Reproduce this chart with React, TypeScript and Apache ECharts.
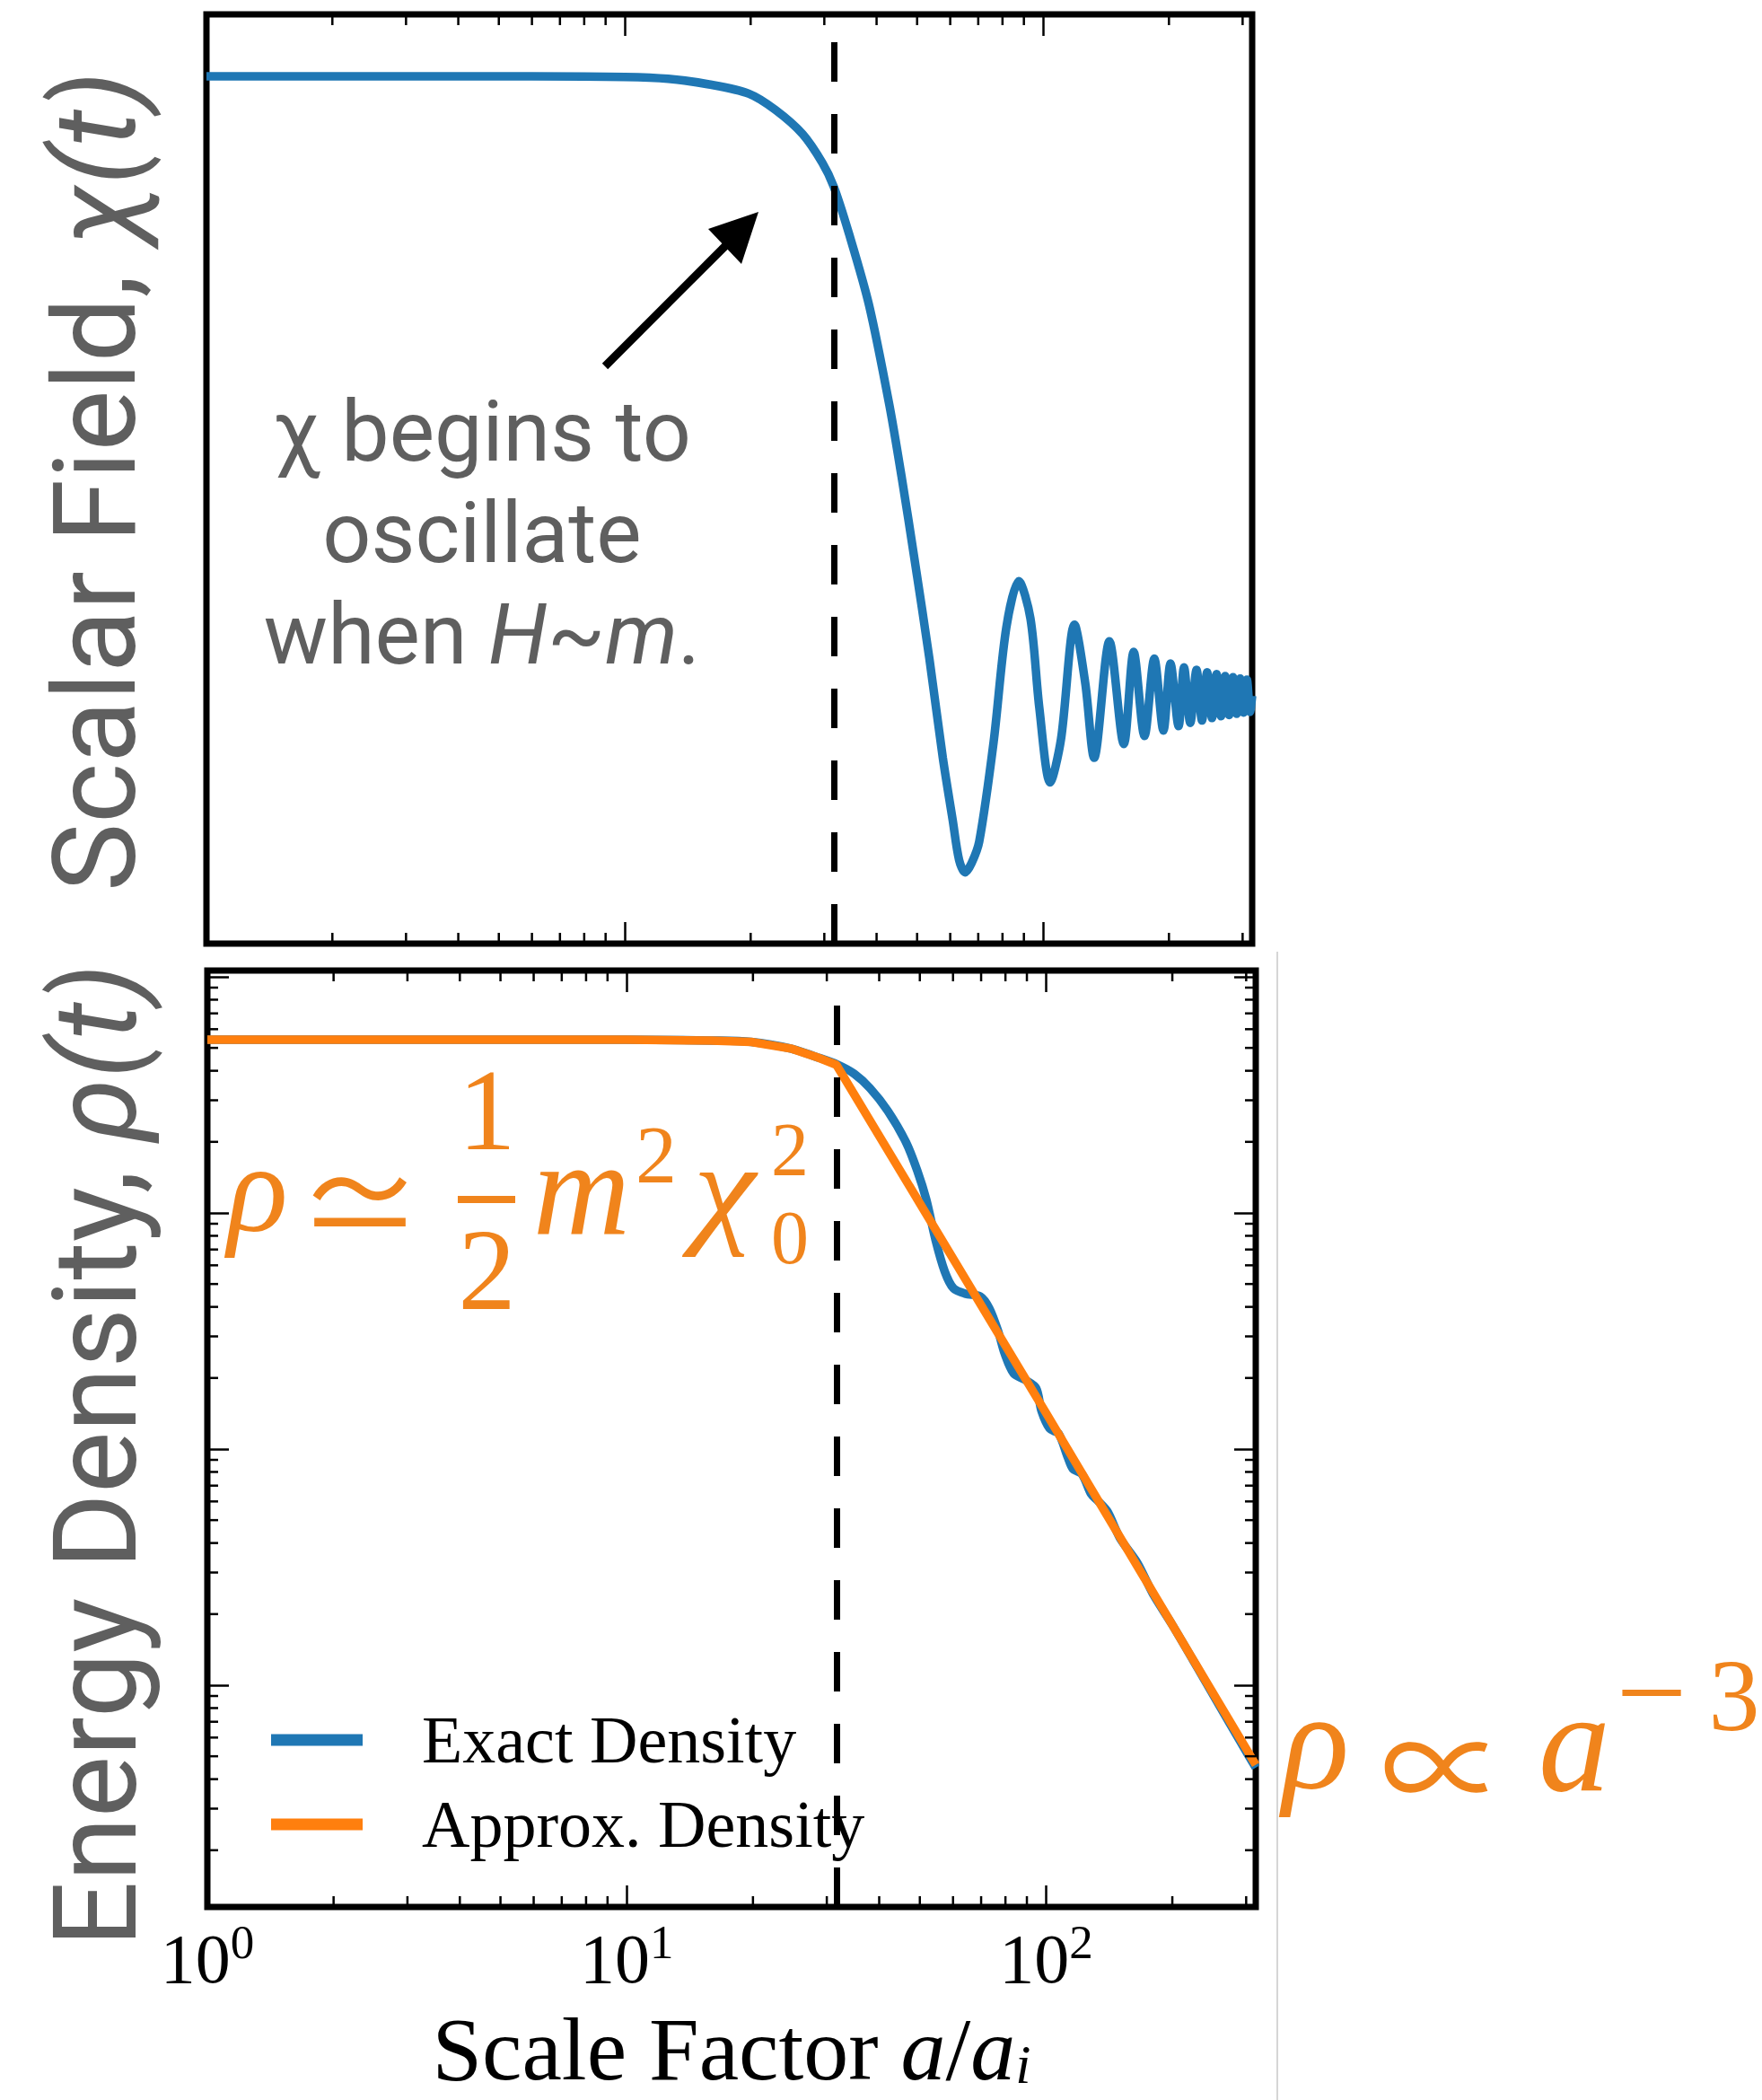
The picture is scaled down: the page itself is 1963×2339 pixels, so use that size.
import React, { useEffect, useRef } from 'react';
import * as echarts from 'echarts';

// ---------------- data ----------------
const X_MIN = 1;
const X_MAX = 316.2;
const OSC_ONSET = 31.62;

// top panel: scalar field chi(a)
const chiA = [1, 3, 6, 10, 12.7, 15.9, 19.8, 22.9, 26.6, 29.7, 31.6, 34.4, 38.4, 42.9, 46.0, 49.3, 53.5, 57.6, 60.8, 63.0,
  65.1, 67.5, 70.4, 76.2, 81.7, 87.5, 93.3, 98.0, 104.0, 110.4, 118.9, 126.2, 132.5, 144.1, 156.0, 164.7, 174.8, 184.5, 194.0, 201.7,
  210.9, 217.3, 224.9, 232.8, 239.9, 246.8, 253.5, 260.0, 266.4, 272.6, 278.6, 284.6, 290.4, 296.1, 301.7, 307.2, 312.6, 316.2];
const chiV = [1, 1, 1, 0.999, 0.996, 0.987, 0.972, 0.946, 0.907, 0.86, 0.822, 0.745, 0.63, 0.47, 0.35, 0.22, 0.06, -0.1, -0.2, -0.265,
  -0.285, -0.27, -0.235, -0.074, 0.11, 0.185, 0.125, -0.02, -0.14, -0.07, 0.115, 0.02, -0.1, 0.088, -0.078, 0.071, -0.065, 0.06, -0.056, 0.052,
  -0.049, 0.046, -0.044, 0.042, -0.04, 0.038, -0.036, 0.035, -0.033, 0.032, -0.031, 0.03, -0.029, 0.028, -0.027, 0.026, -0.026, 0];

// bottom panel: exact energy density
const exactA = [1, 10, 15.9, 19.8, 24.6, 28.2, 31.9, 34.9, 38.0, 41.9, 46.3, 49.3, 51.8, 54.5, 57.3, 60.1, 64.1, 69.7, 73.2, 76.9,
  79.7, 83.7, 89.3, 94.7, 97.5, 102, 107.2, 112.6, 115.9, 121.8, 128, 132.5, 140, 150, 165, 180, 200, 230, 260, 290, 316.2];
const exactV = [0.542, 0.542, 0.537, 0.53, 0.497, 0.459, 0.424, 0.388, 0.338, 0.271, 0.2, 0.151, 0.114, 0.0769, 0.0566, 0.048, 0.0455, 0.0443, 0.0395, 0.0315,
  0.0253, 0.0209, 0.0196, 0.0181, 0.0145, 0.0122, 0.0116, 0.00925, 0.00824, 0.00783, 0.00646, 0.00607, 0.00545, 0.0042, 0.0033, 0.00243, 0.0018, 0.00118, 0.00081, 0.00058, 0.000447];

// bottom panel: approximate energy density
const approxA = [1, 10, 15.9, 19.8, 24.6, 28.2, 31.62, 100, 316.2];
const approxV = [0.542, 0.542, 0.537, 0.53, 0.497, 0.459, 0.424, 0.0142, 0.00046];

const RHO_MIN = 1.15e-4;
const RHO_MAX = 1.063;
const CHI_MIN = -0.4;
const CHI_MAX = 1.1;

// ticks and tick labels
const xMajorTicks = [1, 10, 100];
const xTickBase = '10';
const xTickExps = ['0', '1', '2'];
const xMinorTicks = [2, 3, 4, 5, 6, 7, 8, 9, 20, 30, 40, 50, 60, 70, 80, 90, 200, 300];
const rhoMinorTicks = [
  2e-4, 3e-4, 4e-4, 5e-4, 6e-4, 7e-4, 8e-4, 9e-4,
  2e-3, 3e-3, 4e-3, 5e-3, 6e-3, 7e-3, 8e-3, 9e-3,
  2e-2, 3e-2, 4e-2, 5e-2, 6e-2, 7e-2, 8e-2, 9e-2,
  0.2, 0.3, 0.4, 0.5, 0.6, 0.7, 0.8, 0.9,
];

const seriesNames = ['Exact Density', 'Approx. Density'];

// ---------------- styles ----------------
const BLUE = '#1f77b4';
const ORANGE = '#ff7f0e';
const TXT_ORANGE = '#f0841c';
const GRAY = '#5f5f5f';
const SERIF = "'Liberation Serif', 'DejaVu Serif', serif";
const CJKSYM = "'Noto Sans CJK JP', 'DejaVu Sans', sans-serif";
const SANS = "Roboto, 'Liberation Sans', sans-serif";

const TICK = { color: '#000', width: 2.5 };
const MINOR_LEN = 12;
const LINE_W = 9.5;

const xMinorRender = (params: any, api: any) => {
  const cs = params.coordSys;
  const x = api.coord([api.value(0), api.value(1)])[0];
  const st = { stroke: '#000', lineWidth: TICK.width };
  return {
    type: 'group',
    children: [
      { type: 'line', shape: { x1: x, y1: cs.y, x2: x, y2: cs.y + MINOR_LEN }, style: st },
      { type: 'line', shape: { x1: x, y1: cs.y + cs.height, x2: x, y2: cs.y + cs.height - MINOR_LEN }, style: st },
    ],
  };
};

const yMinorRender = (params: any, api: any) => {
  const cs = params.coordSys;
  const y = api.coord([api.value(0), api.value(1)])[1];
  const st = { stroke: '#000', lineWidth: TICK.width };
  return {
    type: 'group',
    children: [
      { type: 'line', shape: { x1: cs.x, y1: y, x2: cs.x + MINOR_LEN, y2: y }, style: st },
      { type: 'line', shape: { x1: cs.x + cs.width, y1: y, x2: cs.x + cs.width - MINOR_LEN, y2: y }, style: st },
    ],
  };
};

const dashed = {
  silent: true,
  symbol: ['none', 'none'],
  label: { show: false },
  lineStyle: { color: '#000', width: 7, type: [44, 36] },
  data: [{ xAxis: OSC_ONSET }],
  z: 10,
};

const baseLogX: any = {
  type: 'log',
  logBase: 10,
  min: X_MIN,
  max: X_MAX,
  axisLine: { show: false, onZero: false },
  splitLine: { show: false },
  minorTick: { show: false },
  axisTick: { show: true, inside: true, length: 24, lineStyle: TICK },
  axisLabel: { show: false },
};

const baseLogY: any = {
  type: 'log',
  logBase: 10,
  gridIndex: 1,
  min: RHO_MIN,
  max: RHO_MAX,
  axisLine: { show: false, onZero: false },
  splitLine: { show: false },
  minorTick: { show: false },
  axisTick: { show: true, inside: true, length: 24, lineStyle: TICK },
  axisLabel: { show: false },
};

const xLabelFormatter = (v: number) => {
  const i = xMajorTicks.findIndex((t) => Math.abs(t - v) / t < 1e-6);
  return i < 0 ? '' : `{b|${xTickBase}}{s|${xTickExps[i]}}`;
};

// free-standing texts as centred title components (text box centred on cx, cy)
const label = (text: string, cx: number, cy: number, textStyle: any) => ({
  text,
  left: cx,
  top: cy,
  textAlign: 'center',
  textVerticalAlign: 'middle',
  padding: 0,
  itemGap: 0,
  z: 20,
  textStyle,
});

const orange = (text: string, cx: number, cy: number, size: number, italic: boolean, family = SERIF, lineHeight?: number) =>
  label(text, cx, cy, {
    color: TXT_ORANGE,
    fontFamily: family,
    fontSize: size,
    fontStyle: italic ? 'italic' : 'normal',
    fontWeight: 'normal',
    lineHeight: lineHeight || Math.round(size * 0.9),
  });

// symbols that need horizontal stretching, drawn as scaled text
const scaledText = (text: string, cx: number, cy: number, size: number, sx: number, sy: number, family: string, italic = false) => ({
  type: 'text',
  x: cx,
  y: cy,
  scaleX: sx,
  scaleY: sy,
  silent: true,
  z: 50,
  style: {
    text,
    fill: TXT_ORANGE,
    fontSize: size,
    fontFamily: family,
    fontStyle: italic ? 'italic' : 'normal',
    lineHeight: Math.round(size * 0.6),
    align: 'center',
    verticalAlign: 'middle',
  },
});

const option: any = {
  animation: false,
  backgroundColor: '#ffffff',
  title: [
    label('χ begins to\noscillate\nwhen {i|H}~{i|m}.', 537, 593, {
      color: GRAY,
      fontFamily: SANS,
      fontSize: 95,
      fontWeight: 'normal',
      lineHeight: 113,
      rich: {
        i: { color: GRAY, fontFamily: SANS, fontSize: 95, fontStyle: 'italic', lineHeight: 113 },
      },
    }),
    // rho ≃ (1/2) m^2 chi_0^2
    orange('ρ', 287, 1323, 140, true),
    orange('1\n2', 542.5, 1325, 129, false, SERIF, 178),
    orange('m', 648, 1323, 150, true),
    orange('2', 731, 1286, 92, false),
    orange('2\n0', 880, 1329, 84, false, SERIF, 98),
    // rho ∝ a^-3
    orange('ρ', 1466, 1939, 155, true),
    orange('a', 1754, 1940, 160, true),
    orange('−', 1840, 1884, 140, false),
    orange('3', 1932, 1888, 114, false),
  ],
  grid: [
    { left: 230, top: 16, width: 1165, height: 1035, show: true, borderColor: '#000', borderWidth: 7, backgroundColor: 'transparent', containLabel: false, outerBoundsMode: 'none' },
    { left: 231, top: 1081, width: 1168, height: 1043, show: true, borderColor: '#000', borderWidth: 7, backgroundColor: 'transparent', containLabel: false, outerBoundsMode: 'none' },
  ],
  legend: {
    data: seriesNames,
    orient: 'vertical',
    left: 302,
    top: 1898,
    padding: 0,
    icon: 'rect',
    itemWidth: 102,
    itemHeight: 13,
    itemGap: 14,
    selectedMode: false,
    textStyle: { fontFamily: SERIF, fontSize: 74, color: '#000', lineHeight: 80, padding: [0, 0, 0, 61] },
  },
  xAxis: [
    { ...baseLogX, gridIndex: 0, position: 'bottom' },
    { ...baseLogX, gridIndex: 0, position: 'top' },
    {
      ...baseLogX,
      gridIndex: 1,
      position: 'bottom',
      axisLabel: {
        show: true,
        margin: 12,
        formatter: xLabelFormatter,
        rich: {
          b: { fontFamily: SERIF, fontSize: 78, lineHeight: 90, color: '#000' },
          s: { fontFamily: SERIF, fontSize: 53, lineHeight: 53, verticalAlign: 'top', color: '#000' },
        },
      },
      name: '{n|Scale Factor }{i|a}{n|/}{i|a}{sub|i}',
      nameLocation: 'middle',
      nameGap: 110,
      nameMoveOverlap: false,
      nameTextStyle: {
        color: '#000',
        fontFamily: SERIF,
        fontSize: 100,
        lineHeight: 96,
        rich: {
          n: { fontFamily: SERIF, fontSize: 100, color: '#000', lineHeight: 96 },
          i: { fontFamily: SERIF, fontSize: 100, fontStyle: 'italic', color: '#000', lineHeight: 96 },
          sub: { fontFamily: SERIF, fontSize: 62, fontStyle: 'italic', color: '#000', verticalAlign: 'bottom', lineHeight: 48 },
        },
      },
    },
    { ...baseLogX, gridIndex: 1, position: 'top' },
  ],
  yAxis: [
    {
      type: 'value',
      gridIndex: 0,
      min: CHI_MIN,
      max: CHI_MAX,
      axisLine: { show: false, onZero: false },
      axisTick: { show: false },
      axisLabel: { show: false },
      splitLine: { show: false },
      name: '{n|Scalar Field, }{i|χ(t)}',
      nameLocation: 'middle',
      nameGap: 60,
      nameMoveOverlap: false,
      nameTextStyle: {
        color: GRAY,
        fontFamily: SANS,
        fontSize: 128,
        padding: [0, 5, 0, 0],
        rich: {
          n: { fontFamily: SANS, fontSize: 128, color: GRAY, lineHeight: 128 },
          i: { fontFamily: SANS, fontSize: 128, color: GRAY, fontStyle: 'italic', lineHeight: 128 },
        },
      },
    },
    {
      ...baseLogY,
      position: 'left',
      name: '{n|Energy Density, }{i|ρ(t)}',
      nameLocation: 'middle',
      nameGap: 60,
      nameMoveOverlap: false,
      nameTextStyle: {
        color: GRAY,
        fontFamily: SANS,
        fontSize: 129,
        padding: [0, 37, 0, 0],
        rich: {
          n: { fontFamily: SANS, fontSize: 129, color: GRAY, lineHeight: 129 },
          i: { fontFamily: SANS, fontSize: 129, color: GRAY, fontStyle: 'italic', lineHeight: 129 },
        },
      },
    },
    { ...baseLogY, position: 'right' },
  ],
  series: [
    {
      type: 'line',
      name: 'Scalar Field',
      xAxisIndex: 0,
      yAxisIndex: 0,
      data: chiA.map((a, i) => [a, chiV[i]]),
      showSymbol: false,
      symbol: 'none',
      smooth: 0.3,
      lineStyle: { color: BLUE, width: LINE_W },
      itemStyle: { color: BLUE },
      markLine: dashed,
      z: 3,
    },
    {
      type: 'custom',
      xAxisIndex: 0,
      yAxisIndex: 0,
      data: xMinorTicks.map((v) => [v, 0]),
      renderItem: xMinorRender,
      silent: true,
      z: 6,
    },
    {
      type: 'line',
      name: seriesNames[0],
      xAxisIndex: 2,
      yAxisIndex: 1,
      data: exactA.map((a, i) => [a, exactV[i]]),
      showSymbol: false,
      symbol: 'none',
      smooth: 0.3,
      lineStyle: { color: BLUE, width: LINE_W },
      itemStyle: { color: BLUE },
      markLine: dashed,
      z: 3,
    },
    {
      type: 'line',
      name: seriesNames[1],
      xAxisIndex: 2,
      yAxisIndex: 1,
      data: approxA.map((a, i) => [a, approxV[i]]),
      showSymbol: false,
      symbol: 'none',
      lineStyle: { color: ORANGE, width: LINE_W },
      itemStyle: { color: ORANGE },
      z: 4,
    },
    {
      type: 'custom',
      xAxisIndex: 2,
      yAxisIndex: 1,
      data: xMinorTicks.map((v) => [v, 0.01]),
      renderItem: xMinorRender,
      silent: true,
      z: 6,
    },
    {
      type: 'custom',
      xAxisIndex: 2,
      yAxisIndex: 1,
      data: rhoMinorTicks.map((v) => [10, v]),
      renderItem: yMinorRender,
      silent: true,
      z: 6,
    },
  ],
  graphic: [
    { type: 'line', silent: true, shape: { x1: 1423, y1: 1060, x2: 1423, y2: 2339 }, style: { stroke: '#d6d6d6', lineWidth: 2 } },
    { type: 'line', silent: true, z: 50, shape: { x1: 674, y1: 408, x2: 812, y2: 270 }, style: { stroke: '#000', lineWidth: 9 } },
    { type: 'polygon', silent: true, z: 50, shape: { points: [[845, 236], [789, 255], [826, 294]] }, style: { fill: '#000' } },
    { type: 'rect', silent: true, z: 50, shape: { x: 510, y: 1332, width: 64, height: 8 }, style: { fill: TXT_ORANGE } },
    scaledText('≃', 401, 1333, 140, 1.0, 1.0, CJKSYM),
    scaledText('χ', 807, 1323, 140, 1.12, 1.0, SERIF, true),
    scaledText('∝', 1608, 1960, 140, 1.0, 1.0, CJKSYM),
  ],
};

export default function App() {
  const ref = useRef<HTMLDivElement>(null);
  useEffect(() => {
    if (!ref.current) return;
    const chart = echarts.init(ref.current, null, { renderer: 'svg' });
    chart.setOption(option);
    return () => chart.dispose();
  }, []);
  return (
    <div
      ref={ref}
      style={{ position: 'absolute', left: 0, top: 0, width: 1963, height: 2339, background: '#fff' }}
    />
  );
}
